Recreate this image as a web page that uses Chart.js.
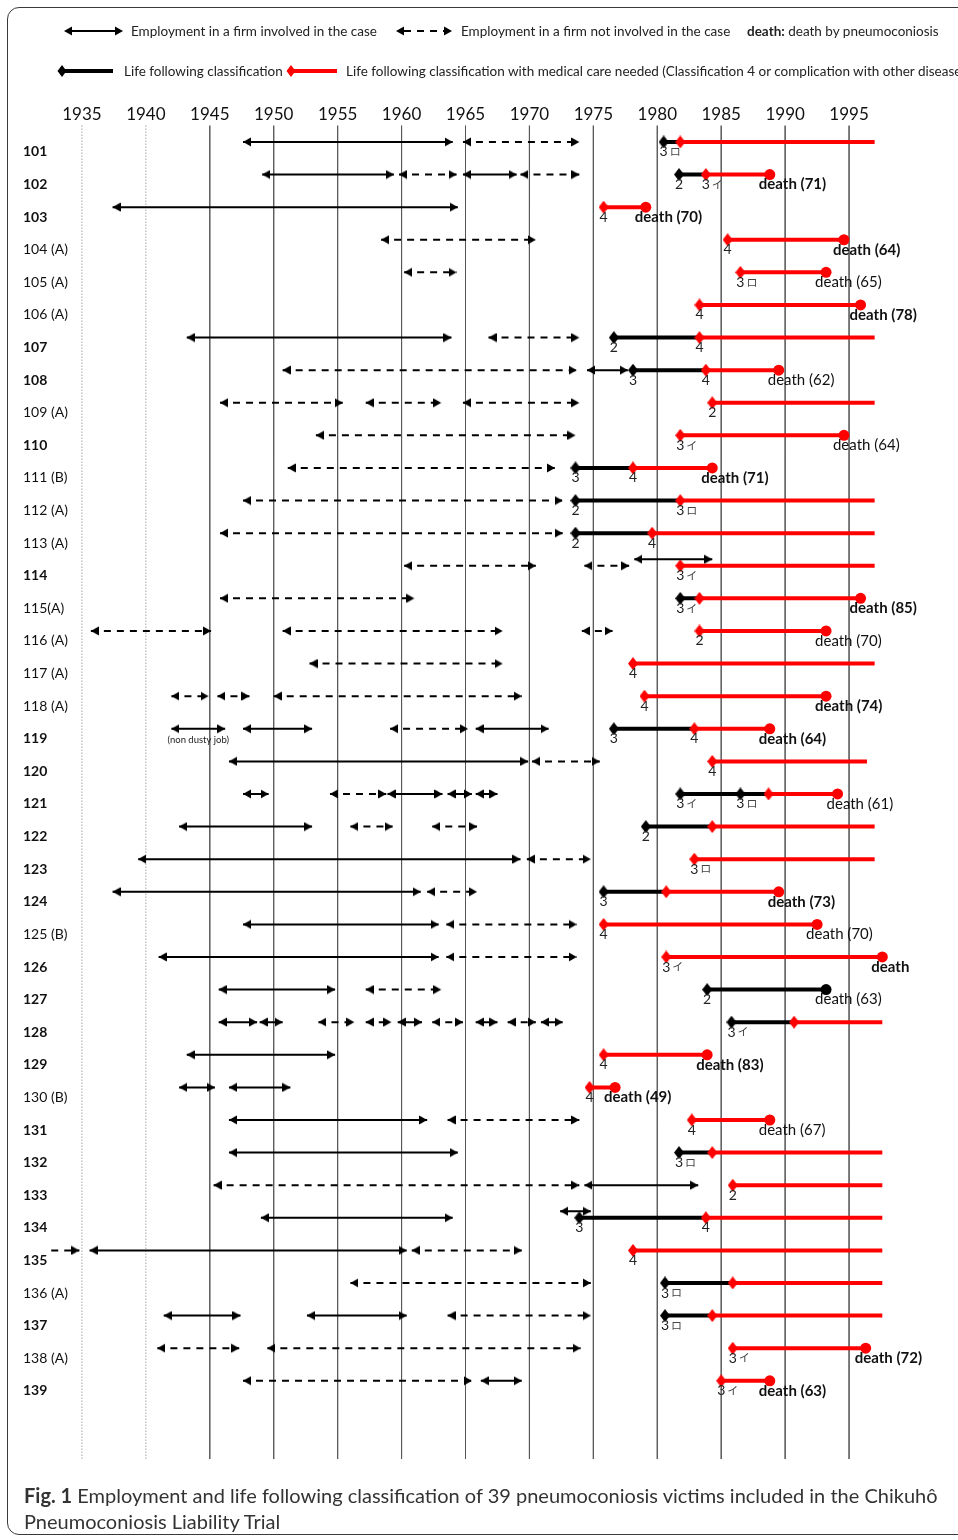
<!DOCTYPE html>
<html>
<head>
<meta charset="utf-8">
<script src="https://cdn.jsdelivr.net/npm/chart.js@4.4.1/dist/chart.umd.min.js"></script>
<style>
  html, body { margin: 0; padding: 0; background: #fff; }
  body { width: 958px; height: 1540px; position: relative; overflow: hidden; font-family: Lato, 'Noto Sans', sans-serif; }
  .frame { position: absolute; left: 7px; top: 7px; width: 1000px; height: 1528px; border: 1.5px solid #3a3a3a; border-radius: 12px; box-sizing: border-box; }
  #wrap { position: absolute; left: 0; top: 0; width: 958px; height: 1540px; }
  #legend { position: absolute; left: 0; top: 0; font-family: Lato, sans-serif; font-size: 13.5px; fill: #222; }
  .caption { position: absolute; left: 24px; top: 1482px; width: 930px; font-size: 20px; line-height: 26px; color: #333; white-space: nowrap; }
</style>
</head>
<body>
<div class="frame"></div>
<div id="wrap"><canvas id="fig1"></canvas></div>

<svg id="legend" width="958" height="90">
  <line x1="68" y1="31" x2="119" y2="31" stroke="#000" stroke-width="2"/>
  <polygon points="64,31 72,26.5 72,35.5" fill="#000"/>
  <polygon points="123,31 115,26.5 115,35.5" fill="#000"/>
  <text x="131" y="36">Employment in a firm involved in the case</text>

  <line x1="404" y1="31" x2="446" y2="31" stroke="#000" stroke-width="2" stroke-dasharray="7 6"/>
  <polygon points="396,31 404,26.5 404,35.5" fill="#000"/>
  <polygon points="452,31 444,26.5 444,35.5" fill="#000"/>
  <text x="461" y="36">Employment in a firm not involved in the case</text>

  <text x="747" y="36"><tspan font-weight="bold">death:</tspan> death by pneumoconiosis</text>

  <line x1="62" y1="71" x2="113" y2="71" stroke="#000" stroke-width="4"/>
  <polygon points="62,65 66.5,71 62,77 57.5,71" fill="#000"/>
  <text x="124" y="76">Life following classification</text>

  <line x1="291" y1="71" x2="337" y2="71" stroke="#f00" stroke-width="4"/>
  <polygon points="291,65 295.5,71 291,77 286.5,71" fill="#f00"/>
  <text x="346" y="76">Life following classification with medical care needed (Classification 4 or complication with other disease)</text>
</svg>

<div class="caption"><b>Fig. 1</b> Employment and life following classification of 39 pneumoconiosis victims included in the Chikuhô<br>Pneumoconiosis Liability Trial</div>

<script>
// victims, top to bottom
const rowNames = ['101', '102', '103', '104 (A)', '105 (A)', '106 (A)', '107', '108', '109 (A)', '110',
  '111 (B)', '112 (A)', '113 (A)', '114', '115(A)', '116 (A)', '117 (A)', '118 (A)', '119', '120',
  '121', '122', '123', '124', '125 (B)', '126', '127', '128', '129', '130 (B)',
  '131', '132', '133', '134', '135', '136 (A)', '137', '138 (A)', '139'];
const yearTicks = [1935, 1940, 1945, 1950, 1955, 1960, 1965, 1970, 1975, 1980, 1985, 1990, 1995];

// [row, from, to]  employment in a firm involved in the case
const involved = [
  [0, 1947.6, 1964.0],
  [1, 1949.1, 1959.4], [1, 1964.8, 1969.0],
  [2, 1937.4, 1964.4],
  [6, 1943.2, 1963.9],
  [7, 1974.5, 1977.7],
  [13, 1978.2, 1984.3],
  [18, 1942.0, 1946.2], [18, 1947.6, 1953.0], [18, 1965.8, 1971.5],
  [19, 1946.5, 1969.9],
  [20, 1947.6, 1949.6], [20, 1958.9, 1963.2], [20, 1963.6, 1965.5], [20, 1965.8, 1967.5],
  [21, 1942.6, 1953.0],
  [22, 1939.4, 1969.3],
  [23, 1937.4, 1961.5],
  [24, 1947.6, 1962.9],
  [25, 1941.0, 1962.9],
  [26, 1945.7, 1954.8],
  [27, 1945.7, 1948.7], [27, 1948.9, 1950.7], [27, 1959.7, 1961.6], [27, 1965.8, 1967.5], [27, 1970.9, 1972.6],
  [28, 1943.2, 1954.8],
  [29, 1942.6, 1945.4], [29, 1946.5, 1951.3],
  [30, 1946.5, 1962.0],
  [31, 1946.5, 1964.4],
  [32, 1974.3, 1983.2],
  [33, 1949.0, 1964.0], [33, 1972.4, 1974.8],
  [34, 1935.6, 1960.4],
  [36, 1941.4, 1947.4], [36, 1952.6, 1960.4],
  [38, 1966.2, 1969.4]
];

// [row, from, to]  employment in a firm not involved in the case
const notInvolved = [
  [0, 1964.8, 1973.9],
  [1, 1959.8, 1964.3], [1, 1969.3, 1973.9],
  [3, 1958.4, 1970.5],
  [4, 1960.2, 1964.3],
  [6, 1966.8, 1973.9],
  [7, 1950.7, 1973.7],
  [8, 1945.8, 1955.4], [8, 1957.2, 1963.1], [8, 1964.8, 1973.9],
  [9, 1953.3, 1973.6],
  [10, 1951.1, 1972.0],
  [11, 1947.6, 1972.6],
  [12, 1945.8, 1972.6],
  [13, 1960.2, 1970.5], [13, 1974.3, 1977.8],
  [14, 1945.8, 1961.0],
  [15, 1935.7, 1945.1], [15, 1950.7, 1967.9], [15, 1974.1, 1976.5],
  [16, 1952.8, 1967.9],
  [17, 1942.0, 1944.9], [17, 1945.6, 1948.1], [17, 1950.0, 1969.4],
  [18, 1959.1, 1965.2],
  [19, 1970.2, 1975.5],
  [20, 1954.4, 1958.8],
  [21, 1956.0, 1959.3], [21, 1962.4, 1965.9],
  [22, 1969.8, 1974.8],
  [23, 1962.0, 1965.9],
  [24, 1963.5, 1973.7],
  [25, 1963.5, 1973.7],
  [26, 1957.2, 1963.1],
  [27, 1953.5, 1956.3], [27, 1957.2, 1959.2], [27, 1962.4, 1964.8], [27, 1968.3, 1970.5],
  [30, 1963.6, 1973.9],
  [32, 1945.3, 1973.9],
  [34, 1960.8, 1969.4],
  [35, 1956.0, 1974.8],
  [36, 1963.6, 1974.8],
  [37, 1940.9, 1947.3], [37, 1949.5, 1974.0],
  [38, 1947.6, 1965.5]
];
// started before the time axis (no left head)
const notInvolvedOpen = [[34, 1932.6, 1934.8]];

// [row, from, to, classification]  life following classification
const lifeBlack = [
  [0, 1980.5, 1981.8, '3ロ'],
  [1, 1981.7, 1983.8, '2'],
  [6, 1976.6, 1983.3, '2'],
  [7, 1978.1, 1983.8, '3'],
  [10, 1973.6, 1978.1, '3'],
  [11, 1973.6, 1981.8, '2'],
  [12, 1973.6, 1979.6, '2'],
  [14, 1981.8, 1983.3, '3イ'],
  [18, 1976.6, 1982.9, '3'],
  [20, 1981.8, 1986.5, '3イ'], [20, 1986.5, 1988.7, '3ロ'],
  [21, 1979.1, 1984.3, '2'],
  [23, 1975.8, 1980.7, '3'],
  [26, 1983.9, 1993.2, '2'],
  [27, 1985.8, 1990.7, '3イ'],
  [31, 1981.7, 1984.3, '3ロ'],
  [33, 1973.9, 1983.8, '3'],
  [35, 1980.6, 1985.9, '3ロ'],
  [36, 1980.6, 1984.3, '3ロ']
];

// [row, from, to, classification]  medical care needed
const lifeRed = [
  [0, 1981.8, 1997.0, ''],
  [1, 1983.8, 1988.8, '3イ'],
  [2, 1975.8, 1979.1, '4'],
  [3, 1985.5, 1994.6, '4'],
  [4, 1986.5, 1993.2, '3ロ'],
  [5, 1983.3, 1995.9, '4'],
  [6, 1983.3, 1997.0, '4'],
  [7, 1983.8, 1989.5, '4'],
  [8, 1984.3, 1997.0, '2'],
  [9, 1981.8, 1994.6, '3イ'],
  [10, 1978.1, 1984.3, '4'],
  [11, 1981.8, 1997.0, '3ロ'],
  [12, 1979.6, 1997.0, '4'],
  [13, 1981.8, 1997.0, '3イ'],
  [14, 1983.3, 1995.9, ''],
  [15, 1983.3, 1993.2, '2'],
  [16, 1978.1, 1997.0, '4'],
  [17, 1979.0, 1993.2, '4'],
  [18, 1982.9, 1988.8, '4'],
  [19, 1984.3, 1996.4, '4'],
  [20, 1988.7, 1994.1, ''],
  [21, 1984.3, 1997.0, ''],
  [22, 1982.9, 1997.0, '3ロ'],
  [23, 1980.7, 1989.5, ''],
  [24, 1975.8, 1992.5, '4'],
  [25, 1980.7, 1997.6, '3イ'],
  [27, 1990.7, 1997.6, ''],
  [28, 1975.8, 1983.9, '4'],
  [29, 1974.7, 1976.7, '4'],
  [30, 1982.7, 1988.8, '4'],
  [31, 1984.3, 1997.6, ''],
  [32, 1985.9, 1997.6, '2'],
  [33, 1983.8, 1997.6, '4'],
  [34, 1978.1, 1997.6, '4'],
  [35, 1985.9, 1997.6, ''],
  [36, 1984.3, 1997.6, ''],
  [37, 1985.9, 1996.3, '3イ'],
  [38, 1985.0, 1988.8, '3イ']
];

// [row, year, age at death, bold]
const deaths = [
  [1, 1988.8, 71, true], [2, 1979.1, 70, true], [3, 1994.6, 64, true], [4, 1993.2, 65, false],
  [5, 1995.9, 78, true], [7, 1989.5, 62, false], [9, 1994.6, 64, false], [10, 1984.3, 71, true],
  [14, 1995.9, 85, true], [15, 1993.2, 70, false], [17, 1993.2, 74, true], [18, 1988.8, 64, true],
  [20, 1994.1, 61, false], [23, 1989.5, 73, true], [24, 1992.5, 70, false], [25, 1997.6, null, true],
  [26, 1993.2, 63, false], [28, 1983.9, 83, true], [29, 1976.7, 49, true], [30, 1988.8, 67, false],
  [37, 1996.3, 72, true], [38, 1988.8, 63, true]
];

const notes = [[18, 1944.1, '(non dusty job)']];

const RED = '#ff0000';

function arrowHead() {
  // tip sits at the centre so it lands on the end year
  const c = document.createElement('canvas');
  c.width = 16; c.height = 10;
  const g = c.getContext('2d');
  g.fillStyle = '#000';
  g.beginPath(); g.moveTo(8, 5); g.lineTo(0, 0.5); g.lineTo(0, 9.5); g.closePath(); g.fill();
  return c;
}
function diamond(color) {
  const c = document.createElement('canvas');
  c.width = 10; c.height = 13;
  const g = c.getContext('2d');
  g.fillStyle = color;
  g.beginPath(); g.moveTo(5, 0); g.lineTo(10, 6.5); g.lineTo(5, 13); g.lineTo(0, 6.5); g.closePath(); g.fill();
  return c;
}
const head = arrowHead();
const diamondBlack = diamond('#000');
const diamondRed = diamond(RED);

const lifeAll = lifeBlack.concat(lifeRed);
// employment overlapping a life line in the same row sits a bit higher
function lift(row, a, b) {
  return lifeAll.some(s => s[0] === row && s[1] < b && s[2] > a) ? 0.2 : 0;
}

function spanSet(s, dashed, open) {
  const y = s[0] - lift(s[0], s[1], s[2]);
  return {
    data: [{x: s[1], y: y}, {x: s[2], y: y}],
    borderColor: '#000', borderWidth: 2,
    borderDash: dashed ? [7, 6] : [],
    pointStyle: [head, head],
    pointRotation: [180, 0],
    pointRadius: [open ? 0 : 5, 5],
    order: 1
  };
}

function lifeSet(s, color, mark, order) {
  const dead = deaths.some(d => d[0] === s[0] && Math.abs(d[1] - s[2]) < 0.05);
  return {
    data: [{x: s[1], y: s[0]}, {x: s[2], y: s[0]}],
    borderColor: color, borderWidth: 4, borderCapStyle: 'butt',
    pointStyle: [mark, 'circle'],
    pointRadius: [5, dead ? 5.5 : 0],
    pointBackgroundColor: color, pointBorderColor: color, pointBorderWidth: 0,
    order: order
  };
}

const gridSets = yearTicks.map(yr => ({
  data: [{x: yr, y: -0.5}, {x: yr, y: 40.4}],
  borderColor: yr < 1945 ? '#777' : '#555',
  borderWidth: yr < 1945 ? 1 : 0.8,
  borderDash: yr < 1945 ? [1, 2] : [],
  pointRadius: 0,
  order: 9
}));

const datasets = [].concat(
  gridSets,
  involved.map(s => spanSet(s, false, false)),
  notInvolved.map(s => spanSet(s, true, false)),
  notInvolvedOpen.map(s => spanSet(s, true, true)),
  lifeBlack.map(s => lifeSet(s, '#000', diamondBlack, 3)),
  lifeRed.map(s => lifeSet(s, RED, diamondRed, 2))
);

const rowText = {
  id: 'rowText',
  afterDatasetsDraw(chart) {
    const {ctx, scales: {x, y}} = chart;
    ctx.save();
    ctx.textBaseline = 'middle';
    lifeAll.forEach(s => {
      if (!s[3]) return;
      const px = x.getPixelForValue(s[1]);
      const py = y.getPixelForValue(s[0]) + 10;
      ctx.fillStyle = '#222';
      ctx.font = '14px Lato';
      ctx.textAlign = 'center';
      ctx.fillText(s[3][0], px, py);
      if (s[3].length > 1) {
        ctx.font = '11px "Noto Sans CJK JP"';
        ctx.fillStyle = '#444';
        ctx.textAlign = 'left';
        ctx.fillText(s[3].slice(1), px + 6, py);
      }
    });
    deaths.forEach(d => {
      ctx.font = (d[3] ? 'bold ' : '') + '15px Lato';
      ctx.fillStyle = '#111';
      ctx.textAlign = 'left';
      const label = d[2] ? 'death (' + d[2] + ')' : 'death';
      ctx.fillText(label, x.getPixelForValue(d[1]) - 11, y.getPixelForValue(d[0]) + 10);
    });
    notes.forEach(n => {
      ctx.font = '9.5px Lato';
      ctx.fillStyle = '#222';
      ctx.textAlign = 'center';
      ctx.fillText(n[2], x.getPixelForValue(n[1]), y.getPixelForValue(n[0]) + 11);
    });
    ctx.restore();
  }
};

new Chart(document.getElementById('fig1'), {
  type: 'line',
  data: {datasets: datasets},
  plugins: [rowText],
  options: {
    responsive: true,
    maintainAspectRatio: false,
    animation: false,
    events: [],
    devicePixelRatio: 1,
    layout: {padding: {left: 18, right: 45, top: 92.4, bottom: 77.7}},
    plugins: {legend: {display: false}, tooltip: {enabled: false}},
    elements: {line: {tension: 0, fill: false}},
    scales: {
      x: {
        type: 'linear', position: 'top', min: 1930, max: 2000,
        grid: {display: false, drawTicks: false}, border: {display: false},
        afterBuildTicks: s => { s.ticks = yearTicks.map(v => ({value: v})); },
        afterFit: s => { s.height = 30; },
        ticks: {padding: -2, color: '#111', autoSkip: false, maxRotation: 0,
          font: {family: 'Lato', size: 17}, callback: v => String(v)}
      },
      y: {
        type: 'linear', reverse: true, min: -0.6, max: 40.5,
        grid: {display: false, drawTicks: false}, border: {display: false},
        afterBuildTicks: s => { s.ticks = rowNames.map((n, i) => ({value: i})); },
        afterFit: s => { s.width = 0; },
        ticks: {
          mirror: true, padding: 5, labelOffset: 10, autoSkip: false, color: '#111',
          font: c => ({family: 'Lato', size: 14, weight: rowNames[c.index] && rowNames[c.index].indexOf('(') < 0 ? 'bold' : 'normal'}),
          callback: (v, i) => rowNames[i]
        }
      }
    }
  }
});
</script>
</body>
</html>
